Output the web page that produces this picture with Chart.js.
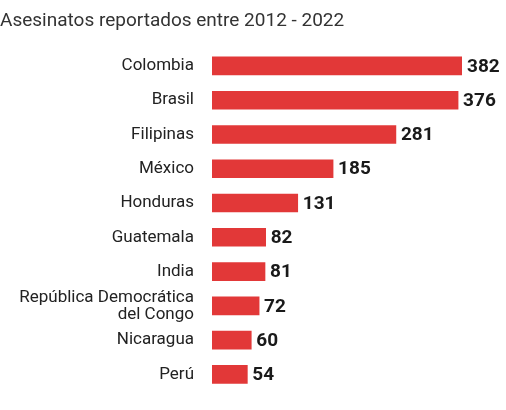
<!DOCTYPE html>
<html>
<head>
<meta charset="utf-8">
<script src="https://cdn.jsdelivr.net/npm/chart.js@4"></script>
<style>
  html, body { margin: 0; padding: 0; background: #fff; }
  #wrap { width: 506px; height: 410px; }
</style>
</head>
<body>
<div id="wrap"><canvas id="grafico"></canvas></div>
<script>
const paises = ["Colombia", "Brasil", "Filipinas", "México", "Honduras", "Guatemala", "India",
    ["República Democrática", "del Congo"], "Nicaragua", "Perú"];
const asesinatos = [382, 376, 281, 185, 131, 82, 81, 72, 60, 54];

// etiquetas de valor al final de cada barra
const valorLabels = {
    id: "valorLabels",
    afterDatasetsDraw(chart) {
        const ctx = chart.ctx;
        const meta = chart.getDatasetMeta(0);
        ctx.save();
        ctx.font = "bold 19px Roboto";
        ctx.fillStyle = "#1a1a1a";
        ctx.textBaseline = "middle";
        meta.data.forEach((bar, i) => {
            ctx.fillText(asesinatos[i], bar.x + 5, bar.y + 1);
        });
        ctx.restore();
    },
};

new Chart(document.getElementById("grafico"), {
    type: "bar",
    data: {
        labels: paises,
        datasets: [{
            data: asesinatos,
            backgroundColor: "#e23838",
            barThickness: 18,
        }],
    },
    options: {
        indexAxis: "y",
        responsive: true,
        maintainAspectRatio: false,
        animation: false,
        layout: { padding: { left: 0, right: 44, top: 0, bottom: 0 } },
        plugins: {
            legend: { display: false },
            tooltip: { enabled: false },
            title: {
                display: true,
                text: "Asesinatos reportados entre 2012 - 2022",
                align: "start",
                color: "#333",
                font: { family: "Roboto", size: 19, weight: "normal" },
                padding: { top: 10, bottom: 16 },
            },
        },
        scales: {
            x: { display: false, min: 0, max: 382 },
            y: {
                afterFit(axis) { axis.width = 212; },
                grid: { display: false },
                border: { display: false },
                ticks: {
                    autoSkip: false,
                    color: "#222",
                    font: { family: "Roboto", size: 17, lineHeight: 1.0 },
                    padding: 10,
                },
            },
        },
    },
    plugins: [valorLabels],
});
</script>
</body>
</html>
